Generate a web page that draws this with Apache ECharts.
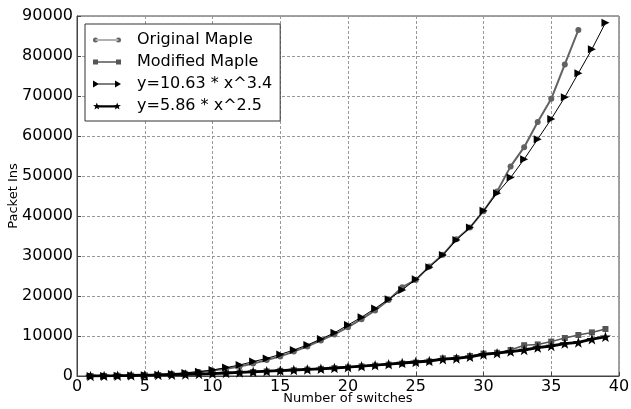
<!DOCTYPE html>
<html>
<head>
<meta charset="utf-8">
<script src="https://cdn.jsdelivr.net/npm/echarts@6/dist/echarts.min.js"></script>
<style>
  html, body { margin: 0; padding: 0; background: #fff; }
  #chart { width: 631px; height: 409px; }
</style>
</head>
<body>
<div id="chart"></div>
<script>
  // data
  var switchesOrig = [];
  for (var i = 1; i <= 37; i++) switchesOrig.push(i);
  var switchesAll = [];
  for (var j = 1; j <= 39; j++) switchesAll.push(j);

  var originalMaple = [10, 30, 60, 110, 190, 310, 480, 710, 1000, 1350,
    1800, 2400, 3100, 4000, 4900, 6100, 7400, 8900, 10400, 12200,
    14200, 16400, 19000, 22200, 24000, 27400, 30300, 34200, 37100, 41200,
    46100, 52400, 57200, 63500, 69300, 77900, 86500];

  var modifiedMaple = [5, 20, 50, 100, 170, 240, 320, 400, 500, 600,
    730, 870, 1000, 1150, 1300, 1450, 1600, 1780, 1950, 2150,
    2400, 2600, 2850, 3100, 3350, 3650, 4400, 4500, 5000, 5600,
    5800, 6500, 7700, 7900, 8600, 9500, 10250, 10900, 11750];

  var fitCubic = [10, 20, 50, 100, 190, 320, 510, 760, 1080, 1500,
    2100, 2750, 3600, 4400, 5400, 6500, 7750, 9250, 10800, 12750,
    14700, 16900, 19200, 21500, 24200, 27200, 30250, 34000, 37100, 41300,
    45700, 49600, 54200, 59200, 64250, 69700, 75700, 81700, 88300];

  var fitSquare = [5, 30, 70, 130, 200, 260, 330, 400, 500, 600,
    750, 900, 1050, 1200, 1350, 1500, 1650, 1800, 2000, 2200,
    2450, 2700, 2950, 3250, 3500, 3750, 4200, 4400, 4800, 5400,
    5700, 6100, 6500, 7100, 7500, 8100, 8400, 9200, 9800];

  var seriesNames = ['Original Maple', 'Modified Maple', 'y=10.63 * x^3.4', 'y=5.86 * x^2.5'];

  function pairs(xs, ys) {
    return ys.map(function (v, k) { return [xs[k], v]; });
  }

  var starPath = 'path://M0,-4L0.94,-1.29L3.8,-1.24L1.52,0.49L2.35,3.24L0,1.6L-2.35,3.24L-1.52,0.49L-3.8,-1.24L-0.94,-1.29Z';
  var triPath = 'path://M0,0L10,5L0,10Z';

  // legend icons: line with a marker at each end, like matplotlib
  var legendIcons = [
    'path://M2.5,3.4H25.5V4.6H2.5Z M0,4a2.5,2.5 0 1,0 5,0a2.5,2.5 0 1,0 -5,0Z M23,4a2.5,2.5 0 1,0 5,0a2.5,2.5 0 1,0 -5,0Z',
    'path://M2.5,3.3H25.5V4.7H2.5Z M0,1.5h5v5h-5Z M23,1.5h5v5h-5Z',
    'path://M3,3.5H25V4.5H3Z M0,0.5L6,4L0,7.5Z M22,0.5L28,4L22,7.5Z',
    'path://M3.8,3.2H24.2V5.6H3.8Z M3.8,0.4L4.74,3.11L7.6,3.16L5.32,4.89L6.15,7.64L3.8,6L1.45,7.64L2.28,4.89L0,3.16L2.86,3.11Z M24.2,0.4L25.14,3.11L28,3.16L25.72,4.89L26.55,7.64L24.2,6L21.85,7.64L22.68,4.89L20.4,3.16L23.26,3.11Z'
  ];

  var font = 'DejaVu Sans';
  var chart = echarts.init(document.getElementById('chart'));
  var option = {
    animation: false,
    backgroundColor: '#fff',
    grid: {
      left: 77, right: 12, top: 16, bottom: 33,
      containLabel: false,
      outerBoundsMode: 'none',
      show: true, borderColor: '#444', borderWidth: 1
    },
    legend: {
      left: 85, top: 24,
      orient: 'vertical',
      backgroundColor: '#fff',
      borderColor: '#333',
      borderWidth: 1,
      borderRadius: 0,
      padding: [7, 8, 6, 8],
      itemWidth: 28,
      itemHeight: 8,
      itemGap: 4,
      textStyle: { fontFamily: font, fontSize: 16, color: '#000', lineHeight: 18, padding: [0, 0, 0, 11] },
      data: seriesNames.map(function (n, k) { return { name: n, icon: legendIcons[k] }; })
    },
    xAxis: {
      type: 'value',
      min: 0, max: 40, interval: 5,
      name: 'Number of switches',
      nameLocation: 'middle',
      nameGap: 16,
      nameMoveOverlap: false,
      nameTextStyle: { fontFamily: font, fontSize: 13, color: '#000' },
      axisLine: { show: true, lineStyle: { color: '#444' } },
      axisTick: { show: true, inside: true, length: 4, lineStyle: { color: '#444' } },
      axisLabel: { fontFamily: font, fontSize: 16, color: '#000', margin: 3 },
      splitLine: { show: true, lineStyle: { color: '#999', type: [3, 2], width: 1 } }
    },
    yAxis: {
      type: 'value',
      min: 0, max: 90000, interval: 10000,
      name: 'Packet Ins',
      nameLocation: 'middle',
      nameGap: 57,
      nameMoveOverlap: false,
      nameTextStyle: { fontFamily: font, fontSize: 13, color: '#000' },
      axisLine: { show: true, lineStyle: { color: '#444' } },
      axisTick: { show: true, inside: true, length: 4, lineStyle: { color: '#444' } },
      axisLabel: { fontFamily: font, fontSize: 16, color: '#000', margin: 4,
        formatter: function (v) { return String(v); } },
      splitLine: { show: true, lineStyle: { color: '#999', type: [3, 2], width: 1 } }
    },
    series: [
      {
        name: seriesNames[0], type: 'line',
        data: pairs(switchesOrig, originalMaple),
        symbol: 'circle', symbolSize: 6,
        itemStyle: { color: '#626262' },
        lineStyle: { color: '#626262', width: 2 },
        z: 2
      },
      {
        name: seriesNames[1], type: 'line',
        data: pairs(switchesAll, modifiedMaple),
        symbol: 'rect', symbolSize: 6,
        itemStyle: { color: '#555' },
        lineStyle: { color: '#555', width: 1.5 },
        z: 2
      },
      {
        name: seriesNames[2], type: 'line',
        data: pairs(switchesAll, fitCubic),
        symbol: triPath, symbolSize: 8,
        itemStyle: { color: '#000' },
        lineStyle: { color: '#000', width: 1 },
        z: 3
      },
      {
        name: seriesNames[3], type: 'line',
        data: pairs(switchesAll, fitSquare),
        symbol: starPath, symbolSize: 11, symbolKeepAspect: true,
        itemStyle: { color: '#000' },
        lineStyle: { color: '#000', width: 2.8 },
        z: 3
      }
    ]
  };
  chart.setOption(option);
</script>
</body>
</html>
